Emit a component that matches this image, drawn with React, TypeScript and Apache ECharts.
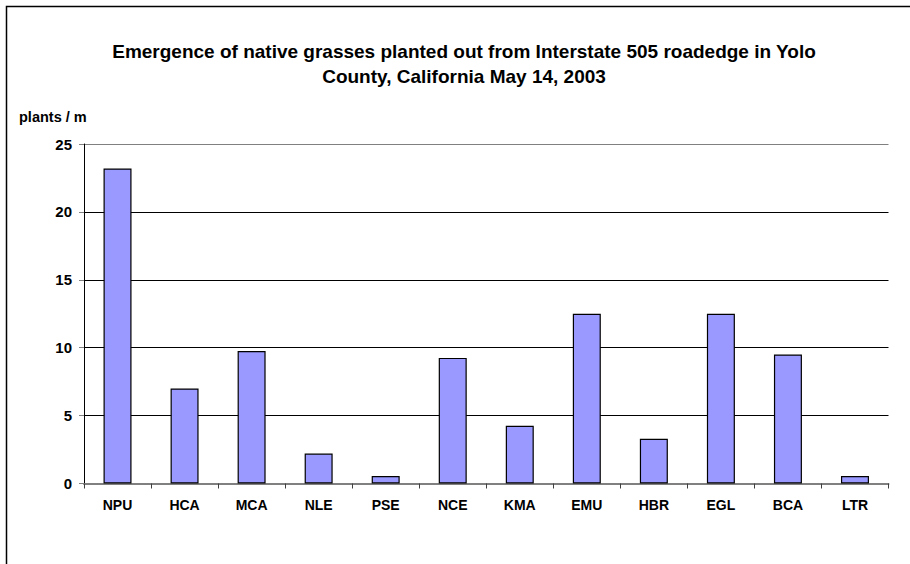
import React, { useEffect, useRef } from "react";
import * as echarts from "echarts";

const categories = ["NPU", "HCA", "MCA", "NLE", "PSE", "NCE", "KMA", "EMU", "HBR", "EGL", "BCA", "LTR"];
const plantsPerM = [23.2, 7.0, 9.75, 2.2, 0.55, 9.25, 4.25, 12.5, 3.3, 12.5, 9.5, 0.55];
const titleLines = [
  "Emergence of native grasses planted out from Interstate 505 roadedge in Yolo",
  "County, California May 14, 2003",
];
const yAxisLabel = "plants / m";
const yMin = 0;
const yMax = 25;
const yStep = 5;

const FONT = "'Liberation Sans', Arial, sans-serif";

export default function App() {
  const ref = useRef<HTMLDivElement>(null);
  useEffect(() => {
    if (!ref.current) return;
    const chart = echarts.init(ref.current, null, { renderer: "svg" });
    chart.setOption({
      animation: false,
      backgroundColor: "#ffffff",
      textStyle: { fontFamily: FONT },
      graphic: [
        {
          type: "rect",
          shape: { x: 6.5, y: 6.5, width: 1000, height: 1000 },
          style: { fill: "none", stroke: "#000000", lineWidth: 1.5 },
          silent: true,
        },
        {
          type: "text",
          x: 464,
          y: 51,
          style: {
            text: titleLines[0],
            font: `bold 19px ${FONT}`,
            fill: "#000000",
            textAlign: "center",
            textVerticalAlign: "middle",
          },
        },
        {
          type: "text",
          x: 464,
          y: 76,
          style: {
            text: titleLines[1],
            font: `bold 19px ${FONT}`,
            fill: "#000000",
            textAlign: "center",
            textVerticalAlign: "middle",
          },
        },
        {
          type: "text",
          x: 19,
          y: 117,
          style: {
            text: yAxisLabel,
            font: `bold 14.5px ${FONT}`,
            fill: "#000000",
            textAlign: "left",
            textVerticalAlign: "middle",
          },
        },
      ],
      grid: { left: 84, right: 21.5, top: 144, bottom: 80.5, containLabel: false },
      xAxis: {
        type: "category",
        data: categories,
        boundaryGap: true,
        axisLine: { show: true, lineStyle: { color: "#808080", width: 2 } },
        axisTick: { show: true, length: 5, lineStyle: { color: "#404040", width: 1 } },
        axisLabel: {
          color: "#000000",
          fontWeight: "bold",
          fontSize: 14,
          fontFamily: FONT,
          margin: 14,
        },
        splitLine: { show: false },
      },
      yAxis: {
        type: "value",
        min: yMin,
        max: yMax,
        interval: yStep,
        axisLine: { show: true, lineStyle: { color: "#000000", width: 1 } },
        axisTick: { show: true, length: 5, lineStyle: { color: "#808080", width: 1 } },
        axisLabel: {
          color: "#000000",
          fontWeight: "bold",
          fontSize: 15,
          fontFamily: FONT,
          margin: 12,
        },
        splitLine: {
          show: true,
          lineStyle: {
            color: ["#808080", "#000000", "#000000", "#000000", "#000000", "#808080"],
            width: 1,
          },
        },
      },
      series: [
        {
          type: "bar",
          data: plantsPerM,
          barWidth: 28,
          itemStyle: { color: "#9999FF", borderColor: "#000000", borderWidth: 1.2 },
        },
      ],
    });
    return () => chart.dispose();
  }, []);
  return (
    <div
      ref={ref}
      style={{ position: "fixed", left: 0, top: 0, width: 910, height: 564 }}
    />
  );
}
